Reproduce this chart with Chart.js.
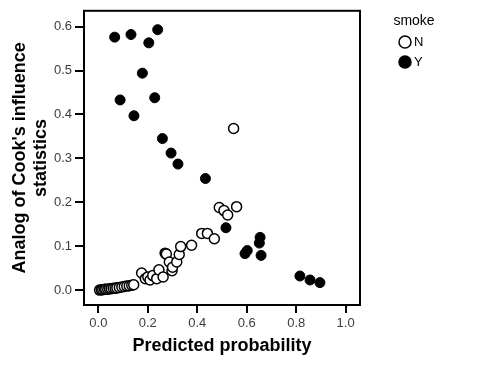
<!DOCTYPE html>
<html>
<head>
<meta charset="utf-8">
<script src="https://cdn.jsdelivr.net/npm/chart.js@4.4.0/dist/chart.umd.min.js"></script>
<style>
  body { margin: 0; background: #fff; }
  #wrap { width: 480px; height: 368px; }
</style>
</head>
<body>
<div id="wrap"><canvas id="chart" width="480" height="368"></canvas></div>
<script>
// smoke = N (open circles)
const nProb = [0.005, 0.012, 0.018, 0.025, 0.030, 0.038, 0.045, 0.052, 0.060, 0.068, 0.075, 0.085, 0.095, 0.105, 0.115, 0.125, 0.135, 0.143,
               0.175, 0.190, 0.200, 0.209, 0.220, 0.236, 0.245, 0.262, 0.270, 0.275, 0.287, 0.298, 0.300, 0.317, 0.327, 0.333,
               0.377, 0.418, 0.441, 0.469, 0.489, 0.508, 0.523, 0.559, 0.547];
const nCook = [0.000, 0.001, 0.001, 0.002, 0.002, 0.002, 0.003, 0.003, 0.004, 0.004, 0.005, 0.006, 0.007, 0.008, 0.009, 0.010, 0.011, 0.012,
               0.039, 0.026, 0.030, 0.023, 0.033, 0.026, 0.046, 0.030, 0.084, 0.082, 0.064, 0.044, 0.052, 0.064, 0.081, 0.099,
               0.102, 0.129, 0.129, 0.117, 0.188, 0.181, 0.171, 0.190, 0.368];

// smoke = Y (filled circles)
const yProb = [0.066, 0.132, 0.240, 0.204, 0.178, 0.088, 0.228, 0.144, 0.259, 0.294, 0.322, 0.433, 0.516,
               0.593, 0.602, 0.654, 0.651, 0.658, 0.815, 0.856, 0.896];
const yCook = [0.576, 0.582, 0.593, 0.563, 0.494, 0.433, 0.438, 0.397, 0.345, 0.312, 0.287, 0.254, 0.142,
               0.083, 0.090, 0.120, 0.107, 0.079, 0.032, 0.023, 0.017];

const xTicks = [0.0, 0.2, 0.4, 0.6, 0.8, 1.0];
const yTicks = [0.0, 0.1, 0.2, 0.3, 0.4, 0.5, 0.6];

const FONT = 'Arial, "Liberation Sans", sans-serif';

const toPoints = (xs, ys) => xs.map((x, i) => ({ x: x, y: ys[i] }));

// box around plot area, tick marks, legend on the right
const framePlugin = {
    id: 'frame',
    afterDraw(chart) {
        const { ctx, chartArea } = chart;
        const xs = chart.scales.x, ys = chart.scales.y;
        ctx.save();
        ctx.strokeStyle = '#000';
        ctx.lineWidth = 2;
        ctx.strokeRect(chartArea.left, chartArea.top, chartArea.right - chartArea.left, chartArea.bottom - chartArea.top);

        // tick marks
        ctx.beginPath();
        xTicks.forEach(v => {
            const px = Math.round(xs.getPixelForValue(v));
            ctx.moveTo(px, chartArea.bottom);
            ctx.lineTo(px, chartArea.bottom + 8);
        });
        yTicks.forEach(v => {
            const py = Math.round(ys.getPixelForValue(v));
            ctx.moveTo(chartArea.left, py);
            ctx.lineTo(chartArea.left - 9, py);
        });
        ctx.stroke();

        // legend
        ctx.fillStyle = '#000';
        ctx.font = '14px ' + FONT;
        ctx.textAlign = 'center';
        ctx.textBaseline = 'middle';
        ctx.fillText('smoke', 414, 21);
        chart.data.datasets.forEach((ds, i) => {
            const y = 42 + i * 20;
            ctx.beginPath();
            ctx.arc(405, y, 6, 0, Math.PI * 2);
            ctx.fillStyle = ds.backgroundColor;
            ctx.fill();
            ctx.lineWidth = 1.5;
            ctx.strokeStyle = '#000';
            ctx.stroke();
            ctx.fillStyle = '#000';
            ctx.textAlign = 'left';
            ctx.font = '13px ' + FONT;
            ctx.fillText(ds.label, 414, y);
        });
        ctx.restore();
    }
};

new Chart(document.getElementById('chart'), {
    type: 'scatter',
    data: {
        datasets: [
            {
                label: 'N',
                data: toPoints(nProb, nCook),
                backgroundColor: '#fff',
                borderColor: '#000',
                borderWidth: 1.5,
                pointRadius: 5,
                pointHoverRadius: 5
            },
            {
                label: 'Y',
                data: toPoints(yProb, yCook),
                backgroundColor: '#000',
                borderColor: '#000',
                borderWidth: 1,
                pointRadius: 5,
                pointHoverRadius: 5
            }
        ]
    },
    options: {
        responsive: false,
        animation: false,
        layout: { padding: { top: 8, right: 120, left: 0, bottom: 0 } },
        plugins: {
            legend: { display: false },
            tooltip: { enabled: false }
        },
        scales: {
            x: {
                type: 'linear',
                min: -0.058,
                max: 1.058,
                afterBuildTicks: scale => { scale.ticks = xTicks.map(v => ({ value: v })); },
                afterFit: scale => { scale.height = 63; },
                grid: { drawOnChartArea: false, drawTicks: true, tickLength: 8, color: 'rgba(0,0,0,0)' },
                border: { display: false },
                ticks: {
                    color: '#3c3c3c',
                    font: { family: FONT, size: 13 },
                    padding: 3,
                    maxRotation: 0,
                    callback: v => v.toFixed(1)
                },
                title: {
                    display: true,
                    text: 'Predicted probability',
                    color: '#000',
                    font: { family: FONT, size: 18, weight: 'bold', lineHeight: 1.15 },
                    padding: { top: 0, bottom: 12 }
                }
            },
            y: {
                type: 'linear',
                min: -0.034,
                max: 0.636,
                afterBuildTicks: scale => { scale.ticks = yTicks.map(v => ({ value: v })); },
                afterFit: scale => { scale.width = 84; },
                grid: { drawOnChartArea: false, drawTicks: true, tickLength: 9, color: 'rgba(0,0,0,0)' },
                border: { display: false },
                ticks: {
                    color: '#3c3c3c',
                    font: { family: FONT, size: 13 },
                    padding: 3,
                    callback: v => v.toFixed(1)
                },
                title: {
                    display: true,
                    text: ["Analog of Cook's influence", 'statistics'],
                    color: '#000',
                    font: { family: FONT, size: 18, weight: 'bold', lineHeight: 1.15 },
                    padding: { top: 10, bottom: 0 }
                }
            }
        }
    },
    plugins: [framePlugin]
});
</script>
</body>
</html>
